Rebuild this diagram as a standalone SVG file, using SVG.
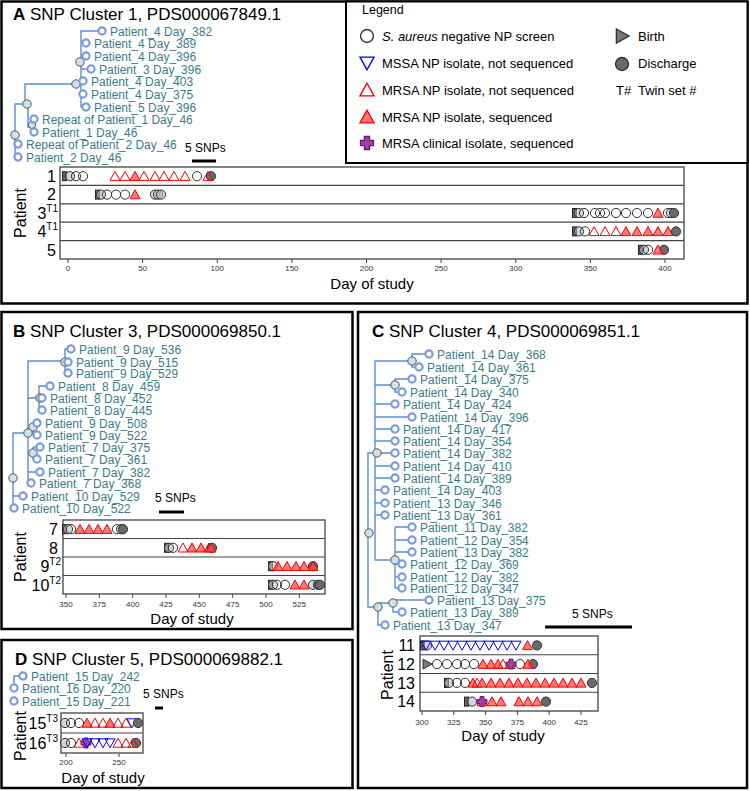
<svg xmlns="http://www.w3.org/2000/svg" xmlns:xlink="http://www.w3.org/1999/xlink" width="750" height="791" viewBox="0 0 750 791">
<style>
text{font-family:'Liberation Sans',Arial,sans-serif}
.title{font-size:17px;fill:#000}
.tl{font-size:12px;fill:#3d7b8a}
.tip{fill:#fff;stroke:#7b9bdc;stroke-width:2.2}
.inn{fill:#cfe0ea;stroke:#555;stroke-width:1}
.br{fill:none;stroke:#5b8fcf;stroke-width:1.4}
.leg{font-size:13px;fill:#000}
.box{fill:#fff;stroke:#444;stroke-width:1.3}
.sep{stroke:#444;stroke-width:1.2}
.tick{stroke:#444;stroke-width:1}
.tkl{font-size:8px;fill:#333;text-anchor:middle}
.axl{font-size:15px;text-anchor:middle}
.rl{font-size:16px;text-anchor:end}
.sup{font-size:10px}
.panel{fill:none;stroke:#000;stroke-width:2.5}
.snp{font-size:12px}
.bar{stroke:#000;stroke-width:3}
</style>
<defs>
<circle id="m-o" r="4.6" fill="none" stroke="#333" stroke-width="1"/>
<circle id="m-og" r="4.6" fill="#bbb" fill-opacity="0.6" stroke="#333" stroke-width="1"/>
<circle id="m-dc" r="4.6" fill="#6a6a6a" stroke="#333" stroke-width="1"/>
<polygon id="m-tr" points="0,-4.8 5,4.2 -5,4.2" fill="none" stroke="#ff0000" stroke-width="1"/>
<polygon id="m-tf" points="0,-4.8 5,4.2 -5,4.2" fill="#ff4a4a" fill-opacity="0.75" stroke="#ff0000" stroke-width="1"/>
<polygon id="m-tb" points="0,4.8 5,-4.2 -5,-4.2" fill="none" stroke="#0000ff" stroke-width="1"/>
<path id="m-cx" d="M-2,-5H2V-2H5V2H2V5H-2V2H-5V-2H-2Z" fill="#9a44a0" stroke="#6d1a75" stroke-width="1"/>
<polygon id="m-bi" points="-4,-5 5,0 -4,5" fill="#777" stroke="#333" stroke-width="1"/>
<rect id="m-st" x="-2.5" y="-4.5" width="4" height="9" fill="#666" stroke="#222" stroke-width="1"/>
</defs>
<rect width="750" height="791" fill="#fff"/>

<!-- PANEL A -->
<g id="panelA">
<rect class="panel" x="1.5" y="1.5" width="746" height="302"/>
<text class="title" x="13" y="20"><tspan font-weight="bold">A</tspan> SNP Cluster 1, PDS000067849.1</text>
<g id="a-edges">
<path class="br" d="M27,104H15V157H18M15,144H18"/>
<path class="br" d="M76,84H25V104M28,104V127H32M34,119H32V132H34"/>
<path class="br" d="M98,31H81V107H83M81,43H83M81,56H83M81,69H88M81,81H80M81,94H80"/>
</g>
<g id="a-nodes">
<circle class="inn" cx="15" cy="135" r="4.2"/>
<circle class="inn" cx="27" cy="104" r="4.2"/>
<circle class="inn" cx="32" cy="125" r="3.6"/>
<circle class="inn" cx="76" cy="84" r="4.2"/>
<circle class="inn" cx="80" cy="62" r="4.2"/>
</g>
<g id="a-t1"><circle class="tip" cx="102" cy="31" r="3.6"/><text class="tl" x="110" y="35.5">Patient_4 Day_382</text></g>
<g id="a-t2"><circle class="tip" cx="86" cy="43" r="3.6"/><text class="tl" x="94" y="47.5">Patient_4 Day_389</text></g>
<g id="a-t3"><circle class="tip" cx="86" cy="56" r="3.6"/><text class="tl" x="94" y="60.5">Patient_4 Day_396</text></g>
<g id="a-t4"><circle class="tip" cx="91" cy="69" r="3.6"/><text class="tl" x="99" y="73.5">Patient_3 Day_396</text></g>
<g id="a-t5"><circle class="tip" cx="83" cy="81" r="3.6"/><text class="tl" x="91" y="85.5">Patient_4 Day_403</text></g>
<g id="a-t6"><circle class="tip" cx="83" cy="94" r="3.6"/><text class="tl" x="91" y="98.5">Patient_4 Day_375</text></g>
<g id="a-t7"><circle class="tip" cx="86" cy="107" r="3.6"/><text class="tl" x="94" y="111.5">Patient_5 Day_396</text></g>
<g id="a-t8"><circle class="tip" cx="34" cy="119" r="3.6"/><text class="tl" x="42" y="123.5">Repeat of Patient_1 Day_46</text></g>
<g id="a-t9"><circle class="tip" cx="34" cy="132" r="3.6"/><text class="tl" x="42" y="136.5">Patient_1 Day_46</text></g>
<g id="a-t10"><circle class="tip" cx="18" cy="144" r="3.6"/><text class="tl" x="26" y="148.5">Repeat of Patient_2 Day_46</text></g>
<g id="a-t11"><circle class="tip" cx="18" cy="157" r="3.6"/><text class="tl" x="26" y="161.5">Patient_2 Day_46</text></g>
<g id="a-scale"><text class="snp" x="185" y="152">5 SNPs</text><line class="bar" x1="192" y1="161" x2="216" y2="161"/></g>

<g id="legend">
<rect x="346" y="1.5" width="401.5" height="161.5" fill="#fff" stroke="#000" stroke-width="2"/>
<text x="362" y="14" font-size="12.5">Legend</text>
<g transform="translate(367,36) scale(1.4)"><use href="#m-o"/></g>
<text class="leg" x="382" y="40.5"><tspan font-style="italic">S. aureus</tspan> negative NP screen</text>
<g transform="translate(367,63) scale(1.4)"><use href="#m-tb"/></g>
<text class="leg" x="382" y="67.5">MSSA NP isolate, not sequenced</text>
<g transform="translate(367,90) scale(1.4)"><use href="#m-tr"/></g>
<text class="leg" x="382" y="94.5">MRSA NP isolate, not sequenced</text>
<g transform="translate(367,117) scale(1.4)"><use href="#m-tf"/></g>
<text class="leg" x="382" y="121.5">MRSA NP isolate, sequenced</text>
<g transform="translate(367,143) scale(1.3)"><use href="#m-cx"/></g>
<text class="leg" x="382" y="147.5">MRSA clinical isolate, sequenced</text>
<g transform="translate(622,36) scale(1.4)"><use href="#m-bi"/></g>
<text class="leg" x="638" y="40.5">Birth</text>
<g transform="translate(622,64) scale(1.4)"><use href="#m-dc"/></g>
<text class="leg" x="638" y="67.5">Discharge</text>
<text class="leg" x="616" y="94.5">T#</text>
<text class="leg" x="638" y="94.5">Twin set #</text>
</g>

<g id="a-plot">
<rect class="box" x="60" y="167" width="624" height="92"/>
<line class="sep" x1="60" y1="185.4" x2="684" y2="185.4"/>
<line class="sep" x1="60" y1="203.8" x2="684" y2="203.8"/>
<line class="sep" x1="60" y1="222.2" x2="684" y2="222.2"/>
<line class="sep" x1="60" y1="240.6" x2="684" y2="240.6"/>
<path class="tick" d="M68,259V263M142.6,259V263M217.3,259V263M291.9,259V263M366.5,259V263M441.1,259V263M515.8,259V263M590.4,259V263M665,259V263"/>
<text class="tkl" x="68" y="271">0</text><text class="tkl" x="142.6" y="271">50</text><text class="tkl" x="217.3" y="271">100</text><text class="tkl" x="291.9" y="271">150</text><text class="tkl" x="366.5" y="271">200</text><text class="tkl" x="441.1" y="271">250</text><text class="tkl" x="515.8" y="271">300</text><text class="tkl" x="590.4" y="271">350</text><text class="tkl" x="665" y="271">400</text>
<text class="axl" x="372" y="289">Day of study</text>
<text font-size="16" text-anchor="middle" transform="translate(26,213) rotate(-90)">Patient</text>
<text class="rl" x="56" y="181.9">1</text>
<text class="rl" x="56" y="200.3">2</text>
<text class="rl" x="58" y="218.7">3<tspan class="sup" dy="-7">T1</tspan></text>
<text class="rl" x="58" y="237.1">4<tspan class="sup" dy="-7">T1</tspan></text>
<text class="rl" x="56" y="255.5">5</text>
<g id="a-row1">
<use href="#m-st" x="65" y="176.2"/><use href="#m-og" x="70" y="176.2"/><use href="#m-o" x="76" y="176.2"/><use href="#m-o" x="83" y="176.2"/>
<use href="#m-tr" x="115" y="176.2"/><use href="#m-tr" x="125" y="176.2"/><use href="#m-tf" x="135" y="176.2"/><use href="#m-tr" x="144" y="176.2"/><use href="#m-tr" x="155" y="176.2"/><use href="#m-tr" x="164" y="176.2"/><use href="#m-tr" x="174" y="176.2"/><use href="#m-tr" x="185" y="176.2"/>
<use href="#m-o" x="197" y="176.2"/><use href="#m-dc" x="211" y="176.2"/><use href="#m-tr" x="208" y="176.2"/>
</g>
<g id="a-row2">
<use href="#m-st" x="98" y="194.6"/><use href="#m-og" x="101" y="194.6"/><use href="#m-o" x="107" y="194.6"/><use href="#m-o" x="116" y="194.6"/><use href="#m-o" x="125" y="194.6"/><use href="#m-tf" x="135" y="194.6"/>
<use href="#m-og" x="155" y="194.6"/><use href="#m-og" x="158" y="194.6"/><use href="#m-og" x="161" y="194.6"/>
</g>
<g id="a-row3">
<use href="#m-st" x="575" y="213"/><use href="#m-og" x="579" y="213"/><use href="#m-o" x="584" y="213"/><use href="#m-o" x="595" y="213"/><use href="#m-o" x="600" y="213"/><use href="#m-o" x="605" y="213"/><use href="#m-o" x="616" y="213"/><use href="#m-o" x="626" y="213"/><use href="#m-o" x="637" y="213"/><use href="#m-o" x="648" y="213"/>
<use href="#m-tf" x="658" y="213"/><use href="#m-o" x="668" y="213"/><use href="#m-og" x="671" y="213"/><use href="#m-dc" x="674" y="213"/>
</g>
<g id="a-row4">
<use href="#m-st" x="575" y="231.4"/><use href="#m-og" x="579" y="231.4"/><use href="#m-o" x="585" y="231.4"/>
<use href="#m-tr" x="594" y="231.4"/><use href="#m-tr" x="605" y="231.4"/><use href="#m-tr" x="616" y="231.4"/><use href="#m-tf" x="626" y="231.4"/><use href="#m-tf" x="637" y="231.4"/><use href="#m-tf" x="648" y="231.4"/><use href="#m-tf" x="658" y="231.4"/><use href="#m-tf" x="668" y="231.4"/>
<use href="#m-dc" x="676" y="231.4"/>
</g>
<g id="a-row5">
<use href="#m-st" x="641" y="249.8"/><use href="#m-og" x="644" y="249.8"/><use href="#m-o" x="648" y="249.8"/><use href="#m-dc" x="664" y="249.8"/><use href="#m-tf" x="658" y="249.8"/>
</g>
</g>
</g>

<!-- PANEL B -->
<g id="panelB">
<rect class="panel" x="1.5" y="312" width="351" height="317"/>
<text class="title" x="13" y="337"><tspan font-weight="bold">B</tspan> SNP Cluster 3, PDS000069850.1</text>
<g id="b-edges">
<path class="br" d="M65,361H28V483"/>
<path class="br" d="M68,349H65V373"/>
<path class="br" d="M28,398H39M47,386H39V410"/>
<path class="br" d="M28,429H33M33,423V435"/>
<path class="br" d="M28,453H33M33,447H37M33,447V459M28,472H36"/>
<path class="br" d="M28,433H13V508M13,496H19"/>
</g>
<g id="b-nodes">
<circle class="inn" cx="65" cy="362" r="4.2"/>
<circle class="inn" cx="40" cy="398" r="4.2"/>
<circle class="inn" cx="33" cy="427" r="4.2"/>
<circle class="inn" cx="28" cy="433" r="4.2"/>
<circle class="inn" cx="33" cy="453" r="4.2"/>
<circle class="inn" cx="13" cy="478" r="4.2"/>
</g>
<g id="b-t1"><circle class="tip" cx="71" cy="349" r="3.6"/><text class="tl" x="79" y="353.5">Patient_9 Day_536</text></g>
<g id="b-t2"><circle class="tip" cx="68" cy="362" r="3.6"/><text class="tl" x="76" y="366.5">Patient_9 Day_515</text></g>
<g id="b-t3"><circle class="tip" cx="68" cy="373" r="3.6"/><text class="tl" x="76" y="377.5">Patient_9 Day_529</text></g>
<g id="b-t4"><circle class="tip" cx="50" cy="386" r="3.6"/><text class="tl" x="58" y="390.5">Patient_8 Day_459</text></g>
<g id="b-t5"><circle class="tip" cx="42" cy="398" r="3.6"/><text class="tl" x="50" y="402.5">Patient_8 Day_452</text></g>
<g id="b-t6"><circle class="tip" cx="42" cy="410" r="3.6"/><text class="tl" x="50" y="414.5">Patient_8 Day_445</text></g>
<g id="b-t7"><circle class="tip" cx="37" cy="423" r="3.6"/><text class="tl" x="45" y="427.5">Patient_9 Day_508</text></g>
<g id="b-t8"><circle class="tip" cx="37" cy="435" r="3.6"/><text class="tl" x="45" y="439.5">Patient_9 Day_522</text></g>
<g id="b-t9"><circle class="tip" cx="40" cy="447" r="3.6"/><text class="tl" x="48" y="451.5">Patient_7 Day_375</text></g>
<g id="b-t10"><circle class="tip" cx="37" cy="459" r="3.6"/><text class="tl" x="45" y="463.5">Patient_7 Day_361</text></g>
<g id="b-t11"><circle class="tip" cx="40" cy="472" r="3.6"/><text class="tl" x="48" y="476.5">Patient_7 Day_382</text></g>
<g id="b-t12"><circle class="tip" cx="31" cy="483" r="3.6"/><text class="tl" x="39" y="487.5">Patient_7 Day_368</text></g>
<g id="b-t13"><circle class="tip" cx="23" cy="496" r="3.6"/><text class="tl" x="31" y="500.5">Patient_10 Day_529</text></g>
<g id="b-t14"><circle class="tip" cx="14" cy="508" r="3.6"/><text class="tl" x="22" y="512.5">Patient_10 Day_522</text></g>
<g id="b-scale"><text class="snp" x="155" y="502">5 SNPs</text><line class="bar" x1="159" y1="512" x2="184" y2="512"/></g>
<g id="b-plot">
<rect class="box" x="63" y="520" width="262" height="74"/>
<line class="sep" x1="63" y1="538.5" x2="325" y2="538.5"/>
<line class="sep" x1="63" y1="557" x2="325" y2="557"/>
<line class="sep" x1="63" y1="575.5" x2="325" y2="575.5"/>
<path class="tick" d="M66,594V598M99.3,594V598M132.7,594V598M166,594V598M199.3,594V598M232.7,594V598M266,594V598M299.3,594V598"/>
<text class="tkl" x="66" y="607">350</text><text class="tkl" x="99.3" y="607">375</text><text class="tkl" x="132.7" y="607">400</text><text class="tkl" x="166" y="607">425</text><text class="tkl" x="199.3" y="607">450</text><text class="tkl" x="232.7" y="607">475</text><text class="tkl" x="266" y="607">500</text><text class="tkl" x="299.3" y="607">525</text>
<text class="axl" x="192" y="624">Day of study</text>
<text font-size="16" text-anchor="middle" transform="translate(26,557) rotate(-90)">Patient</text>
<text class="rl" x="58" y="534.9">7</text>
<text class="rl" x="58" y="553.5">8</text>
<text class="rl" x="61" y="571.9">9<tspan class="sup" dy="-7">T2</tspan></text>
<text class="rl" x="61" y="590.5">10<tspan class="sup" dy="-7">T2</tspan></text>
<g id="b-row7">
<use href="#m-st" x="65" y="529.2"/><use href="#m-og" x="68" y="529.2"/><use href="#m-o" x="71" y="529.2"/>
<use href="#m-tf" x="80" y="529.2"/><use href="#m-tf" x="89" y="529.2"/><use href="#m-tf" x="98" y="529.2"/><use href="#m-tf" x="107" y="529.2"/>
<use href="#m-o" x="117" y="529.2"/><use href="#m-og" x="121" y="529.2"/><use href="#m-dc" x="123" y="529.2"/>
</g>
<g id="b-row8">
<use href="#m-st" x="167" y="547.8"/><use href="#m-og" x="169" y="547.8"/><use href="#m-o" x="173" y="547.8"/>
<use href="#m-tr" x="183" y="547.8"/><use href="#m-tf" x="192" y="547.8"/><use href="#m-tf" x="201" y="547.8"/><use href="#m-tf" x="209" y="547.8"/>
<use href="#m-dc" x="212" y="547.8"/><use href="#m-tf" x="211" y="547.8"/>
</g>
<g id="b-row9">
<use href="#m-st" x="271" y="566.2"/><use href="#m-og" x="273" y="566.2"/>
<use href="#m-tf" x="278" y="566.2"/><use href="#m-tf" x="287" y="566.2"/><use href="#m-tf" x="296" y="566.2"/><use href="#m-tf" x="304" y="566.2"/>
<use href="#m-dc" x="313" y="566.2"/><use href="#m-tf" x="313" y="566.2"/>
</g>
<g id="b-row10">
<use href="#m-st" x="271" y="584.8"/><use href="#m-og" x="273" y="584.8"/><use href="#m-o" x="277" y="584.8"/><use href="#m-o" x="285" y="584.8"/>
<use href="#m-tf" x="295" y="584.8"/><use href="#m-tf" x="304" y="584.8"/>
<use href="#m-og" x="313" y="584.8"/><use href="#m-dc" x="318" y="584.8"/><use href="#m-dc" x="320" y="584.8"/>
</g>
</g>
</g>

<!-- PANEL C -->
<g id="panelC">
<rect class="panel" x="358" y="312" width="389" height="476"/>
<text class="title" x="372" y="337"><tspan font-weight="bold">C</tspan> SNP Cluster 4, PDS000069851.1</text>
<g id="c-edges">
<path class="br" d="M412,361H375V560H395"/>
<path class="br" d="M412,361V354H425M412,361V367H416"/>
<path class="br" d="M375,385H395M395,385V379H408M395,385V392H398"/>
<path class="br" d="M375,404H391M375,417H408M375,429H391M375,441H391M375,453H391M375,466H391M375,478H391M375,490H381M375,503H381M375,515H381"/>
<path class="br" d="M395,527V588M395,527H408M395,540H408M395,552H408M395,564H398M395,577H398M395,588H398"/>
<path class="br" d="M375,453H368V607H378M378,603V625H381M378,603H393M393,603V600H425M393,603V612H398"/>
</g>
<g id="c-nodes">
<circle class="inn" cx="412" cy="361" r="4.2"/>
<circle class="inn" cx="395" cy="385" r="4.2"/>
<circle class="inn" cx="377" cy="453" r="4.2"/>
<circle class="inn" cx="369" cy="533" r="4.2"/>
<circle class="inn" cx="395" cy="560" r="4.2"/>
<circle class="inn" cx="393" cy="603" r="4.2"/>
<circle class="inn" cx="378" cy="607" r="4.2"/>
</g>
<g id="c-t1"><circle class="tip" cx="429" cy="354" r="3.6"/><text class="tl" x="437" y="358.5">Patient_14 Day_368</text></g>
<g id="c-t2"><circle class="tip" cx="419" cy="367" r="3.6"/><text class="tl" x="427" y="371.5">Patient_14 Day_361</text></g>
<g id="c-t3"><circle class="tip" cx="412" cy="379" r="3.6"/><text class="tl" x="420" y="383.5">Patient_14 Day_375</text></g>
<g id="c-t4"><circle class="tip" cx="402" cy="392" r="3.6"/><text class="tl" x="410" y="396.5">Patient_14 Day_340</text></g>
<g id="c-t5"><circle class="tip" cx="395" cy="404" r="3.6"/><text class="tl" x="403" y="408.5">Patient_14 Day_424</text></g>
<g id="c-t6"><circle class="tip" cx="412" cy="417" r="3.6"/><text class="tl" x="420" y="421.5">Patient_14 Day_396</text></g>
<g id="c-t7"><circle class="tip" cx="395" cy="429" r="3.6"/><text class="tl" x="403" y="433.5">Patient_14 Day_417</text></g>
<g id="c-t8"><circle class="tip" cx="395" cy="441" r="3.6"/><text class="tl" x="403" y="445.5">Patient_14 Day_354</text></g>
<g id="c-t9"><circle class="tip" cx="395" cy="453" r="3.6"/><text class="tl" x="403" y="457.5">Patient_14 Day_382</text></g>
<g id="c-t10"><circle class="tip" cx="395" cy="466" r="3.6"/><text class="tl" x="403" y="470.5">Patient_14 Day_410</text></g>
<g id="c-t11"><circle class="tip" cx="395" cy="478" r="3.6"/><text class="tl" x="403" y="482.5">Patient_14 Day_389</text></g>
<g id="c-t12"><circle class="tip" cx="385" cy="490" r="3.6"/><text class="tl" x="393" y="494.5">Patient_14 Day_403</text></g>
<g id="c-t13"><circle class="tip" cx="385" cy="503" r="3.6"/><text class="tl" x="393" y="507.5">Patient_13 Day_346</text></g>
<g id="c-t14"><circle class="tip" cx="385" cy="515" r="3.6"/><text class="tl" x="393" y="519.5">Patient_13 Day_361</text></g>
<g id="c-t15"><circle class="tip" cx="412" cy="527" r="3.6"/><text class="tl" x="420" y="531.5">Patient_11 Day_382</text></g>
<g id="c-t16"><circle class="tip" cx="412" cy="540" r="3.6"/><text class="tl" x="420" y="544.5">Patient_12 Day_354</text></g>
<g id="c-t17"><circle class="tip" cx="412" cy="552" r="3.6"/><text class="tl" x="420" y="556.5">Patient_13 Day_382</text></g>
<g id="c-t18"><circle class="tip" cx="402" cy="564" r="3.6"/><text class="tl" x="410" y="568.5">Patient_12 Day_369</text></g>
<g id="c-t19"><circle class="tip" cx="402" cy="577" r="3.6"/><text class="tl" x="410" y="581.5">Patient_12 Day_382</text></g>
<g id="c-t20"><circle class="tip" cx="402" cy="588" r="3.6"/><text class="tl" x="410" y="592.5">Patient_12 Day_347</text></g>
<g id="c-t21"><circle class="tip" cx="429" cy="600" r="3.6"/><text class="tl" x="437" y="604.5">Patient_13 Day_375</text></g>
<g id="c-t22"><circle class="tip" cx="402" cy="612" r="3.6"/><text class="tl" x="410" y="616.5">Patient_13 Day_389</text></g>
<g id="c-t23"><circle class="tip" cx="385" cy="625" r="3.6"/><text class="tl" x="393" y="629.5">Patient_13 Day_347</text></g>
<g id="c-scale"><text class="snp" x="572" y="618">5 SNPs</text><line class="bar" x1="545" y1="627" x2="632" y2="627"/></g>
<g id="c-plot">
<rect class="box" x="420" y="636" width="178" height="75"/>
<line class="sep" x1="420" y1="654.75" x2="598" y2="654.75"/>
<line class="sep" x1="420" y1="673.5" x2="598" y2="673.5"/>
<line class="sep" x1="420" y1="692.25" x2="598" y2="692.25"/>
<path class="tick" d="M422,711V715M453.8,711V715M485.6,711V715M517.4,711V715M549.2,711V715M581,711V715"/>
<text class="tkl" x="422" y="725">300</text><text class="tkl" x="453.8" y="725">325</text><text class="tkl" x="485.6" y="725">350</text><text class="tkl" x="517.4" y="725">375</text><text class="tkl" x="549.2" y="725">400</text><text class="tkl" x="581" y="725">425</text>
<text class="axl" x="503" y="741">Day of study</text>
<text font-size="16" text-anchor="middle" transform="translate(393,675) rotate(-90)">Patient</text>
<text class="rl" x="415" y="651.1">11</text>
<text class="rl" x="415" y="669.8">12</text>
<text class="rl" x="415" y="688.6">13</text>
<text class="rl" x="415" y="707.3">14</text>
<g id="c-row11">
<use href="#m-st" x="423" y="645.4"/><use href="#m-og" x="427" y="645.4"/><use href="#m-tb" x="426" y="645.4"/>
<use href="#m-tb" x="435" y="645.4"/><use href="#m-tb" x="444" y="645.4"/><use href="#m-tb" x="453" y="645.4"/><use href="#m-tb" x="462" y="645.4"/><use href="#m-tb" x="471" y="645.4"/><use href="#m-tb" x="480" y="645.4"/><use href="#m-tb" x="489" y="645.4"/><use href="#m-tb" x="498" y="645.4"/><use href="#m-tb" x="507" y="645.4"/><use href="#m-tb" x="516" y="645.4"/>
<use href="#m-tf" x="527.5" y="645.4"/><use href="#m-dc" x="537" y="645.4"/>
</g>
<g id="c-row12">
<use href="#m-bi" x="427" y="664.1"/><use href="#m-o" x="437" y="664.1"/><use href="#m-o" x="447" y="664.1"/><use href="#m-o" x="457" y="664.1"/><use href="#m-o" x="465" y="664.1"/><use href="#m-o" x="474" y="664.1"/>
<use href="#m-tf" x="483" y="664.1"/><use href="#m-tf" x="491" y="664.1"/><use href="#m-tf" x="498" y="664.1"/><use href="#m-tr" x="503" y="664.1"/><use href="#m-tf" x="510" y="664.1"/><use href="#m-cx" x="511" y="664.1"/>
<use href="#m-o" x="520" y="664.1"/><use href="#m-dc" x="533" y="664.1"/><use href="#m-tf" x="528" y="664.1"/>
</g>
<g id="c-row13">
<use href="#m-st" x="447" y="682.9"/><use href="#m-og" x="449" y="682.9"/><use href="#m-o" x="457" y="682.9"/><use href="#m-o" x="465" y="682.9"/>
<use href="#m-tf" x="473" y="682.9"/><use href="#m-tr" x="477" y="682.9"/><use href="#m-tf" x="482" y="682.9"/><use href="#m-tf" x="491" y="682.9"/><use href="#m-tf" x="500" y="682.9"/><use href="#m-tf" x="509" y="682.9"/><use href="#m-tf" x="518" y="682.9"/><use href="#m-tf" x="527" y="682.9"/><use href="#m-tf" x="536" y="682.9"/><use href="#m-tf" x="545" y="682.9"/><use href="#m-tf" x="554" y="682.9"/><use href="#m-tf" x="563" y="682.9"/><use href="#m-tf" x="572" y="682.9"/><use href="#m-tf" x="581" y="682.9"/>
<use href="#m-dc" x="592" y="682.9"/>
</g>
<g id="c-row14">
<use href="#m-st" x="467" y="701.6"/><use href="#m-og" x="472" y="701.6"/><use href="#m-tf" x="482" y="701.6"/><use href="#m-cx" x="482" y="701.6"/>
<use href="#m-tf" x="492" y="701.6"/><use href="#m-tf" x="501" y="701.6"/>
<use href="#m-tf" x="519" y="701.6"/><use href="#m-tf" x="528" y="701.6"/><use href="#m-tf" x="537" y="701.6"/>
<use href="#m-dc" x="546" y="701.6"/>
</g>
</g>
</g>

<!-- PANEL D -->
<g id="panelD">
<rect class="panel" x="1.5" y="640" width="351" height="148"/>
<text class="title" x="15" y="665"><tspan font-weight="bold">D</tspan> SNP Cluster 5, PDS000069882.1</text>
<g id="d-edges"><path class="br" d="M14,688V676H20"/></g>
<g id="d-t1"><circle class="tip" cx="23" cy="676" r="3.6"/><text class="tl" x="31" y="680.5">Patient_15 Day_242</text></g>
<g id="d-t2"><circle class="tip" cx="14" cy="688" r="3.6"/><text class="tl" x="22" y="692.5">Patient_16 Day_220</text></g>
<g id="d-t3"><circle class="tip" cx="14" cy="701" r="3.6"/><text class="tl" x="22" y="705.5">Patient_15 Day_221</text></g>
<g id="d-scale"><text class="snp" x="143" y="698">5 SNPs</text><line class="bar" x1="155" y1="708" x2="163" y2="708"/></g>
<g id="d-plot">
<rect class="box" x="61" y="713" width="82" height="40"/>
<line class="sep" x1="61" y1="733" x2="143" y2="733"/>
<path class="tick" d="M66,753V757M119,753V757"/>
<text class="tkl" x="66" y="765">200</text><text class="tkl" x="119" y="765">250</text>
<text class="axl" x="103" y="783">Day of study</text>
<text font-size="16" text-anchor="middle" transform="translate(26,736) rotate(-90)">Patient</text>
<text class="rl" x="58" y="728.7">15<tspan class="sup" dy="-7">T3</tspan></text>
<text class="rl" x="58" y="748.7">16<tspan class="sup" dy="-7">T3</tspan></text>
<g id="d-row15">
<use href="#m-og" x="65" y="723"/><use href="#m-o" x="71" y="723"/><use href="#m-o" x="79" y="723"/>
<use href="#m-tf" x="87" y="723"/><use href="#m-tr" x="95" y="723"/><use href="#m-tr" x="103" y="723"/><use href="#m-tf" x="110" y="723"/><use href="#m-tr" x="118" y="723"/><use href="#m-tr" x="126" y="723"/>
<use href="#m-tb" x="132" y="723"/><use href="#m-dc" x="138" y="723"/>
</g>
<g id="d-row16">
<use href="#m-og" x="65" y="743"/><use href="#m-o" x="71" y="743"/><use href="#m-tr" x="79" y="743"/>
<use href="#m-cx" x="86" y="743"/><use href="#m-tb" x="87" y="743"/><use href="#m-tb" x="95" y="743"/><use href="#m-tb" x="103" y="743"/><use href="#m-tb" x="110" y="743"/>
<use href="#m-tr" x="118" y="743"/><use href="#m-tr" x="126" y="743"/><use href="#m-dc" x="136" y="743"/><use href="#m-tr" x="133" y="743"/>
</g>
</g>
</g>
</svg>
